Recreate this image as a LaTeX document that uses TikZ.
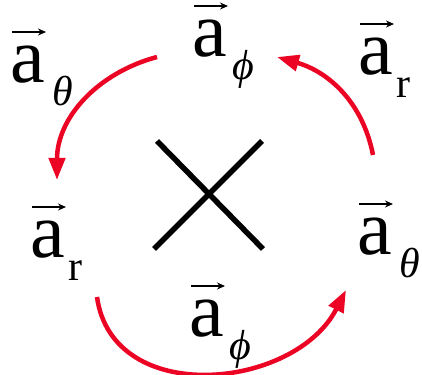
\documentclass[tikz,border=0pt]{standalone}
\usepackage{fontspec}
\setmainfont{Liberation Serif}
\usepackage{tikz}
\usetikzlibrary{arrows.meta}
\usepackage{xcolor}
\definecolor{cycRed}{RGB}{235, 4, 36}

% unit vector a with a lowered subscript (arrow drawn in the picture)
\newcommand{\unitvec}[2][4pt]{a\kern#1\raisebox{-23pt}{\fontsize{42}{42}\selectfont #2}}

\begin{document}
\begin{tikzpicture}[x=1pt, y=1pt,
    lbl/.style={anchor=base west, inner sep=0pt, text height=40pt,
      font=\fontsize{78}{80}\selectfont},
    vecarrow/.style={line width=2pt, -{Stealth[length=8pt, width=7pt]}},
    cyc/.style={cycRed, line width=4.5pt, -{Triangle[length=22pt, width=16pt]}},
    crossline/.style={line width=5.5pt}]
  \useasboundingbox (0,0) rectangle (422,374);

  % Unit vector labels
  \node[lbl] (thetaTop)   at (10, 291)  {\unitvec[8pt]{\textit{θ}}};
  \node[lbl] (phiTop)     at (192, 317) {\unitvec[6pt]{\textit{ϕ}}};
  \node[lbl] (rTop)       at (358, 299) {\unitvec{r}};
  \node[lbl] (rLeft)      at (30, 116)  {\unitvec{r}};
  \node[lbl] (thetaRight) at (357, 119) {\unitvec[8pt]{\textit{θ}}};
  \node[lbl] (phiBottom)  at (189, 37)  {\unitvec[6pt]{\textit{ϕ}}};

  % vector arrows over the a's
  \foreach \n in {thetaTop, phiTop, rTop, rLeft, thetaRight, phiBottom}
    \draw[vecarrow] ([shift={(2,51)}]\n.base west) -- ++(34,0);

  % The cross product sign
  \coordinate (cross) at (209, 179);
  \draw[crossline] ([shift={(-52,54)}]cross) -- ([shift={(54,-54)}]cross);
  \draw[crossline] ([shift={(53,54)}]cross) -- ([shift={(-55,-54)}]cross);

  % Cyclic order arrows
  \draw[cyc] ([shift={(-35,0)}]phiTop.base west) to[out=195, in=90]
    ([shift={(27,78)}]rLeft.base west);
  \draw[cyc] ([shift={(16,100)}]thetaRight.base west) to[out=101, in=-16]
    ([shift={(85,0)}]phiTop.base west);
  \draw[cyc] ([shift={(67,-39)}]rLeft.base west) to[out=-82, in=-117, looseness=1.15]
    ([shift={(-11,-35)}]thetaRight.base west);
\end{tikzpicture}
\end{document}
